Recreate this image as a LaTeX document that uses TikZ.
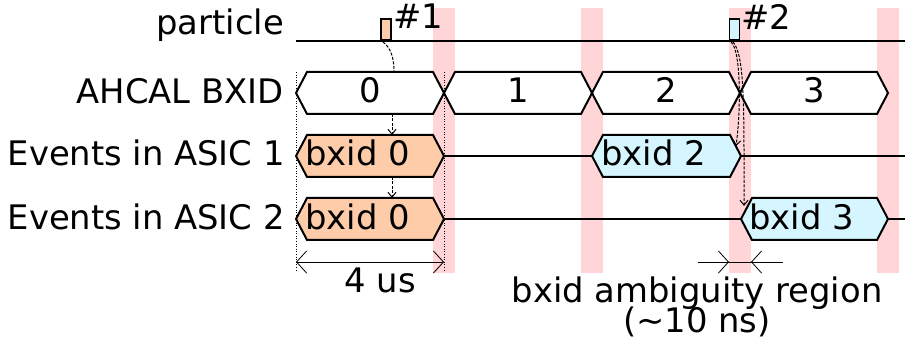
\documentclass[tikz,border=0pt]{standalone}
\usepackage{fontspec}
\setmainfont{DejaVu Sans}
\usetikzlibrary{arrows.meta, calc}
\definecolor{hitorange}{HTML}{FFCCAA}
\definecolor{hitblue}{HTML}{D5F6FF}
\definecolor{ambigpink}{HTML}{FFD5D8}

% hexagonal bus segment: x1, x2, centre y, fill
\newcommand{\hexseg}[4]{%
  \draw[line width=2pt, fill=#4] (#1,#3) -- (#1+11,#3-21) -- (#2-11,#3-21) -- (#2,#3)
    -- (#2-11,#3+21) -- (#1+11,#3+21) -- cycle;}

\begin{document}
\begin{tikzpicture}[x=1pt, y=-1pt, font=\fontsize{33.8}{30}\selectfont,
    rowlabel/.style={inner sep=0pt, anchor=base east},
    boxtext/.style={inner sep=0pt, anchor=base west},
    wire/.style={line width=1.8pt},
    pulse/.style={draw, line width=1.5pt, inner sep=0pt, minimum width=10pt, minimum height=21pt, anchor=south},
    trig/.style={line width=1pt, dash pattern=on 3pt off 1.5pt},
    trigtip/.style={-{Straight Barb[length=5pt,width=8pt]}},
    guide/.style={line width=0.6pt, dotted},
    dimline/.style={line width=0.8pt},
    barb/.style={line width=0.8pt, -{Straight Barb[length=10pt,width=22pt]}}]
\useasboundingbox (0,0) rectangle (905,347);

% ambiguity bands
\foreach \c in {444,592,740,888}
  \fill[ambigpink] (\c-11,8) rectangle (\c+11,273);

\draw[guide] (296,72) -- (296,272);
\draw[guide] (444,72) -- (444,272);

% row labels
\node[rowlabel] (lpart) at (284,35) {particle};
\node[rowlabel] (lbus) at (284,104) {AHCAL BXID};
\node[rowlabel] (lasic1) at (285,166) {Events in ASIC 1};
\node[rowlabel] (lasic2) at (285,230) {Events in ASIC 2};

% particle line
\draw[wire] (296,41) -- (905,41);
\node[pulse, fill=hitorange] (pulse1) at (386,41) {};
\node[pulse, fill=hitblue] (pulse2) at (734.5,41) {};
\node[boxtext] (tag1) at (393,29) {\#1};
\node[boxtext] (tag2) at (741,30) {\#2};

% AHCAL BXID bus
\foreach \a/\b/\n in {296/444/0, 444/592/1, 592/740/2, 740/888/3} {
  \hexseg{\a}{\b}{93}{white}
  \node[inner sep=0pt, anchor=base] (bx\n) at ({(\a+\b)/2},103) {\n};
}

% ASIC 1
\hexseg{296}{444}{156}{hitorange}
\draw[wire] (444,156) -- (592,156);
\hexseg{592}{741}{156}{hitblue}
\draw[wire] (741,156) -- (905,156);
\node[boxtext] (ev1a) at (305,166) {bxid 0};
\node[boxtext] (ev1b) at (601,166) {bxid 2};

% ASIC 2
\hexseg{296}{444}{219}{hitorange}
\draw[wire] (444,219) -- (741,219);
\hexseg{741}{888}{219}{hitblue}
\draw[wire] (888,219) -- (905,219);
\node[boxtext] (ev2a) at (305,230) {bxid 0};
\node[boxtext] (ev2b) at (749,230) {bxid 3};

% trigger paths
\coordinate (hit1) at (383,42);
\coordinate (bus0top) at (394,72);
\coordinate (bus0bot) at (392,114);
\coordinate (ev1atop) at (392,135);
\coordinate (ev1abot) at (392,177);
\coordinate (ev2atop) at (392,198);
\coordinate (hit2a) at (731,42);
\coordinate (hit2b) at (733,42);
\coordinate (ev1bedge) at (736,146);
\coordinate (ev2bedge) at (744,206);
\draw[trig] (hit1) .. controls (391,48) and (394,58) .. (bus0top);
\draw[trig, trigtip] (bus0bot) -- (ev1atop);
\draw[trig, trigtip] (ev1abot) -- (ev2atop);
\draw[trig, trigtip] (hit2a) .. controls (741,50) and (741,110) .. (ev1bedge);
\draw[trig, trigtip] (hit2b) .. controls (745,55) and (744,110) .. (ev2bedge);

% 4 us span
\coordinate (spanL) at (296,262);
\coordinate (spanR) at (444,262);
\draw[dimline, {Straight Barb[length=10pt,width=22pt]}-{Straight Barb[length=10pt,width=22pt]}] (spanL) -- (spanR);
\node[inner sep=0pt, anchor=base] (spantext) at (380,293) {4 us};

% ambiguity region
\coordinate (amb0) at (698,262);
\coordinate (amb1) at (729,262);
\coordinate (amb2) at (751,262);
\coordinate (amb3) at (783,262);
\draw[dimline] (amb0) -- (amb3);
\draw[barb] (amb0) -- (amb1);
\draw[barb] (amb3) -- (amb2);
\node[inner sep=0pt, anchor=base] (ambtext) at (697,303) {bxid ambiguity region};
\node[inner sep=0pt, anchor=base] (ambns) at (697,333) {(\textasciitilde10 ns)};
\end{tikzpicture}
\end{document}
